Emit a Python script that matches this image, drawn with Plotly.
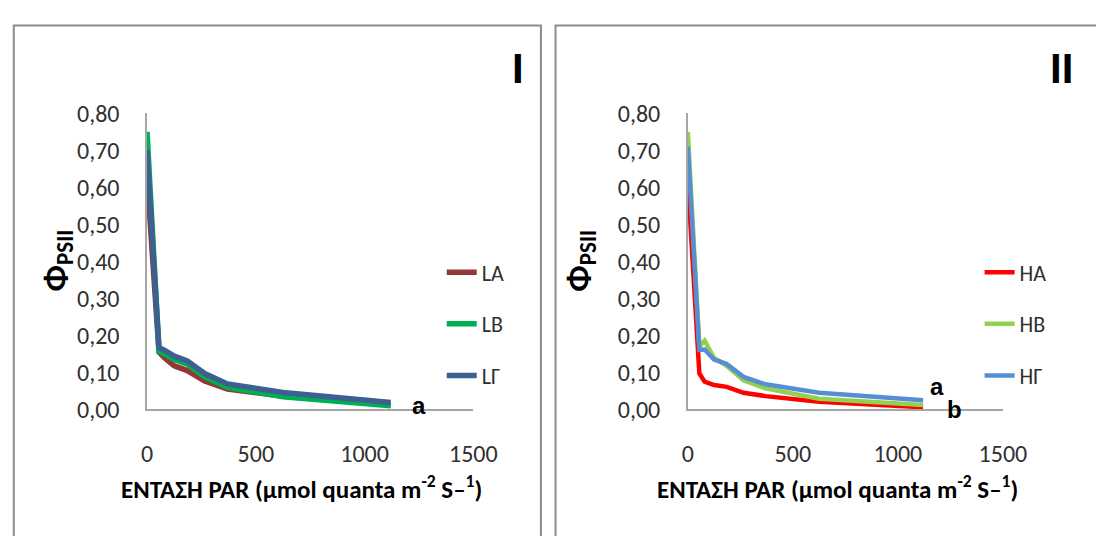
import plotly.graph_objects as go

# PAR intensity (µmol quanta m-2 s-1)
par = [0, 55, 80, 125, 185, 265, 370, 625, 1120]

# Panel I
LA = [0.63, 0.155, 0.140, 0.118, 0.105, 0.077, 0.055, 0.036, 0.012]
LB = [0.75, 0.157, 0.150, 0.135, 0.122, 0.088, 0.060, 0.034, 0.010]
LG = [0.70, 0.167, 0.160, 0.144, 0.131, 0.097, 0.069, 0.046, 0.019]

# Panel II
HA = [0.62, 0.097, 0.075, 0.066, 0.061, 0.045, 0.036, 0.021, 0.006]
HB = [0.75, 0.170, 0.186, 0.139, 0.118, 0.079, 0.057, 0.029, 0.012]
HG = [0.71, 0.161, 0.162, 0.135, 0.123, 0.088, 0.068, 0.045, 0.025]

names_I = ["LA", "LB", "LΓ"]
names_II = ["HA", "HB", "HΓ"]
colors_I = ["#953735", "#00b050", "#3b6091"]
colors_II = ["#ff0000", "#92d050", "#558ed5"]

xticks = [0, 500, 1000, 1500]
x_title = "<b>ΕΝΤΑΣΗ PAR (μmol quanta m<sup>-2</sup> S–<sup>1</sup>)</b>"
y_title = "<b>Φ<sub>PSII</sub></b>"

W, H = 1096, 536
FONT = "Carlito, Lato, 'Liberation Sans', sans-serif"
BOLD = "'Liberation Sans', Arial, sans-serif"

def px(x):
    return x / W

def py(y):
    return (H - y) / H

fig = go.Figure()
for name, ys, col in zip(names_I, [LA, LB, LG], colors_I):
    fig.add_trace(go.Scatter(x=par, y=ys, mode="lines", name=name,
                             line=dict(color=col, width=5.5), legendgroup=name,
                             xaxis="x", yaxis="y", legend="legend", cliponaxis=False))
for name, ys, col in zip(names_II, [HA, HB, HG], colors_II):
    fig.add_trace(go.Scatter(x=par, y=ys, mode="lines", name=name,
                             line=dict(color=col, width=4.5), legendgroup=name,
                             xaxis="x2", yaxis="y2", legend="legend2", cliponaxis=False))

TICKF = dict(size=24, color="#303030", family=FONT)
axis_common = dict(showgrid=False, zeroline=False, showline=True, linecolor="#a6a6a6",
                   linewidth=1.5, ticks="", tickfont=TICKF)
LEGF = dict(size=22, family=FONT, color="#303030")

ydom = [py(417), py(104)]
fig.update_layout(
    width=W, height=H, margin=dict(l=0, r=0, t=0, b=0),
    paper_bgcolor="white", plot_bgcolor="white",
    separators=", ",
    font=dict(family=FONT, color="#222"),
    xaxis=dict(domain=[px(145), px(480.5)], range=[0, 1500], tickvals=xticks,
               tickformat="d", anchor="y", ticklabelstandoff=22, **axis_common),
    yaxis=dict(domain=ydom, range=[0, 0.8], dtick=0.1, tickformat=".2f",
               anchor="x", ticklabelstandoff=21, **axis_common),
    xaxis2=dict(domain=[px(701), px(1025)], range=[0, 1500], tickvals=xticks,
                tickformat="d", anchor="y2", ticklabelstandoff=22, **axis_common),
    yaxis2=dict(domain=ydom, range=[0, 0.8], dtick=0.1, tickformat=".2f",
                anchor="x2", ticklabelstandoff=21, **axis_common),
    legend=dict(x=px(448), y=py(250), xanchor="left", yanchor="top",
                font=LEGF, tracegroupgap=20, bgcolor="rgba(0,0,0,0)"),
    legend2=dict(x=px(1001), y=py(250), xanchor="left", yanchor="top",
                 font=LEGF, tracegroupgap=20, bgcolor="rgba(0,0,0,0)"),
    showlegend=True,
)

# Panel frames
frame = dict(type="rect", xref="paper", yref="paper",
             line=dict(color="#8c8c8c", width=2), fillcolor="rgba(0,0,0,0)", layer="below")
fig.add_shape(x0=px(8), x1=px(550), y0=-0.1, y1=py(11), **frame)
fig.add_shape(x0=px(565), x1=1.1, y0=-0.1, y1=py(11), **frame)

ann = []
ann.append(dict(x=px(526), y=py(57), text="<b>I</b>", font=dict(size=42, family=BOLD, color="black")))
ann.append(dict(x=px(1071), y=py(57), text="<b>II</b>", xanchor="left", font=dict(size=42, family=BOLD, color="black")))
ann.append(dict(x=px(303.5), y=py(500), text=x_title, font=dict(size=25, family=FONT, color="black")))
ann.append(dict(x=px(855), y=py(500), text=x_title, font=dict(size=25, family=FONT, color="black")))
ann.append(dict(x=px(52), y=py(260), text=y_title, textangle=-90, font=dict(size=33, family=FONT, color="black")))
ann.append(dict(x=px(590), y=py(260), text=y_title, textangle=-90, font=dict(size=33, family=FONT, color="black")))
ann.append(dict(x=px(425), y=py(413), text="<b>a</b>", font=dict(size=24, family=BOLD, color="black")))
ann.append(dict(x=px(957), y=py(393), text="<b>a</b>", font=dict(size=24, family=BOLD, color="black")))
ann.append(dict(x=px(975), y=py(417), text="<b>b</b>", font=dict(size=24, family=BOLD, color="black")))
for a in ann:
    a.setdefault("xanchor", "center")
    fig.add_annotation(xref="paper", yref="paper", showarrow=False, yanchor="middle", **a)

fig.write_html("out.html",
               post_script="document.body.style.margin='0';document.body.style.overflow='hidden';")
